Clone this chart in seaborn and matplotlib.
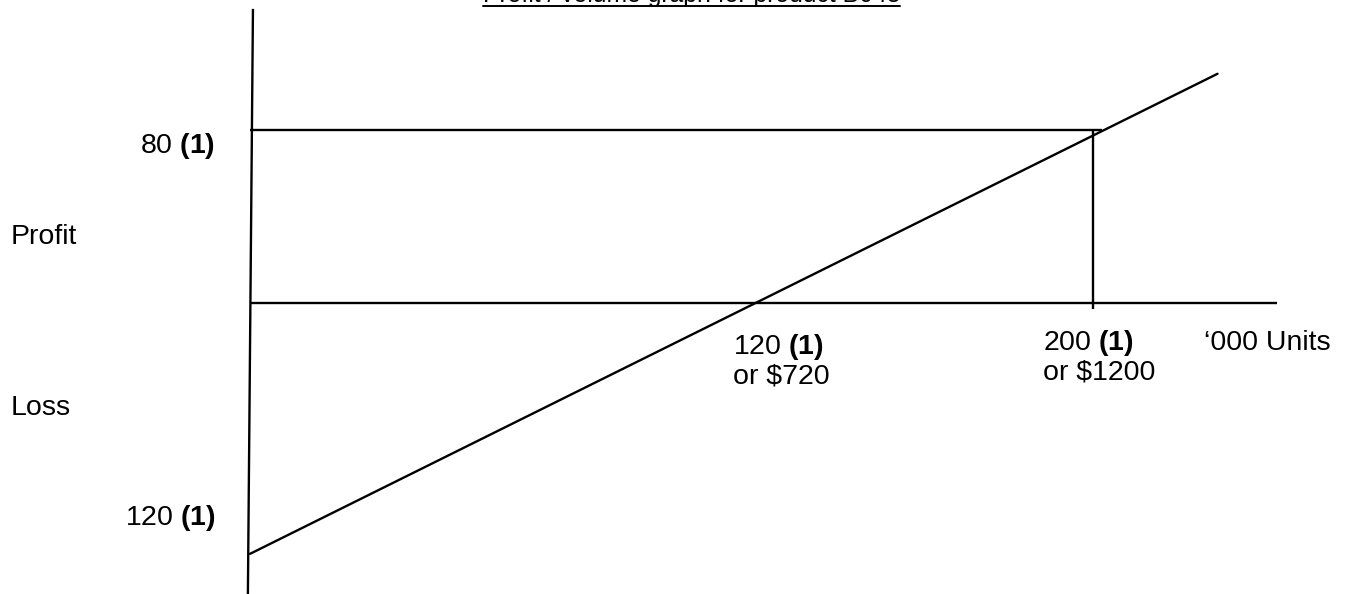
import numpy as np
import pandas as pd
import matplotlib
matplotlib.use('Agg')
import matplotlib.pyplot as plt
import seaborn as sns

# Profit / volume data ('000 units, $'000), as drawn
units = [0, 229]
profit = [-116, 106]
fixed_cost = 120
breakeven_units = 120
target_units = 200
target_profit = 80
revenue_labels = ["or $720", "or $1200"]

title = "Profit / volume graph for product B045"
x_label = "\u2018000 Units"

sns.set_theme(style='white')
plt.rcParams['font.family'] = ['Liberation Sans', 'DejaVu Sans']
plt.rcParams['mathtext.fontset'] = 'custom'
plt.rcParams['mathtext.rm'] = 'Liberation Sans'
plt.rcParams['mathtext.bf'] = 'Liberation Sans:bold'

W, H = 1355, 594
fig = plt.figure(figsize=(W / 100, H / 100), dpi=100)
ax = fig.add_axes([0, 0, 1, 1])

# pixel scale: 0 units at x=250, 4.225 px per unit; 0 profit at y=303, 2.1625 px per $
ax.set_xlim(-250 / 4.225, (W - 250) / 4.225)
ax.set_ylim(-(H - 303) / 2.1625, 303 / 2.1625)
ax.axis('off')

pv = pd.DataFrame({'units': units, 'profit': profit})
sns.lineplot(data=pv, x='units', y='profit', color='black', lw=1.7, ax=ax)

lc = dict(color='black', lw=1.7, solid_capstyle='butt')
# axes
ax.plot([0.7, -0.5], [136, -134.6], **lc)
ax.plot([0, 243], [0, 0], **lc)
# target profit guides
ax.plot([0, 201.7], [target_profit, target_profit], **lc)
ax.plot([target_units - 0.5, target_units - 0.5], [target_profit, -2.8], **lc)


def px(x, y):
    return x / W, 1 - y / H


fs = 20.5
def label(x, y, s, size=fs):
    fig.text(*px(x, y), s, fontsize=size, va='baseline', ha='left', color='black')


label(11, 244, "Profit")
label(11, 415, "Loss")
label(140, 153, r"%d $\mathbf{(1)}$" % target_profit)
label(125, 525, r"%d $\mathbf{(1)}$" % fixed_cost)
label(733, 354, r"%d $\mathbf{(1)}$" % breakeven_units)
label(733, 384, revenue_labels[0])
label(1043, 350, r"%d $\mathbf{(1)}$" % target_units)
label(1043, 380, revenue_labels[1])
label(1204, 350, x_label)

# title, mostly cut off at the top edge (as in the source)
label(483, 2, title, size=17.8)
fig.add_artist(plt.Line2D([483 / W, 900 / W], [1 - 5.5 / H] * 2, color='black', lw=1.4,
                          transform=fig.transFigure))

fig.savefig('out.png', dpi=100)
